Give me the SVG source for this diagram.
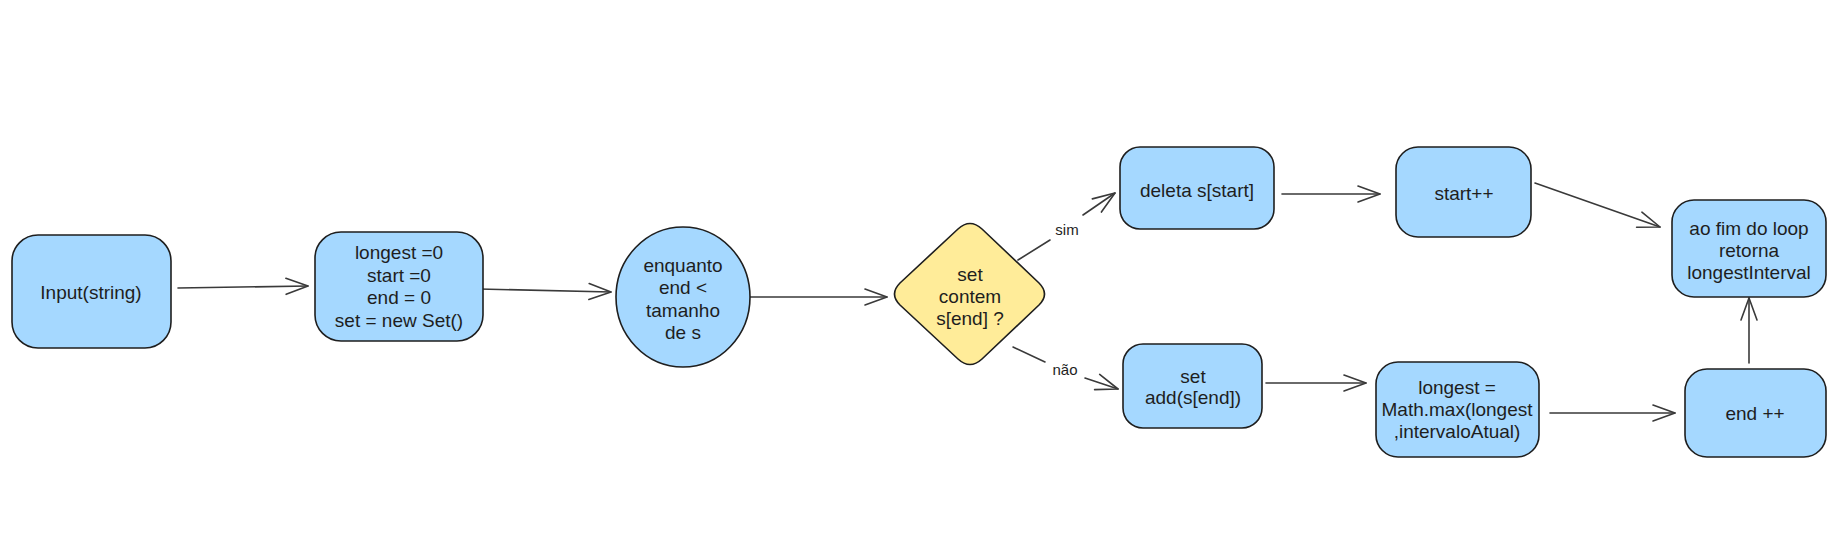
<svg xmlns="http://www.w3.org/2000/svg" width="1837" height="551" viewBox="0 0 1837 551">
<defs>
<style>
.box{fill:#a5d8ff;stroke:#1e1e1e;stroke-width:1.6}
.dec{fill:#ffec99;stroke:#1e1e1e;stroke-width:1.6}
.t{font-family:"Liberation Sans",Arial,sans-serif;font-size:19px;fill:#1e1e1e;text-anchor:middle;dominant-baseline:central}
.lbl{font-family:"Liberation Sans",Arial,sans-serif;font-size:15px;fill:#1e1e1e;text-anchor:middle;dominant-baseline:central}
.c{fill:none;stroke:#3a3a3a;stroke-width:1.6;stroke-linecap:round}
</style>
<marker id="arr" viewBox="-25 -10 27 20" markerWidth="27" markerHeight="20" refX="0" refY="0" orient="auto" markerUnits="userSpaceOnUse">
<path d="M-22,-8 L0,0 L-22,8" fill="none" stroke="#3a3a3a" stroke-width="1.6" stroke-linecap="round" stroke-linejoin="round"/>
</marker>
</defs>
<rect width="1837" height="551" fill="#ffffff"/>

<g id="connectors">
<line class="c" x1="178" y1="288" x2="308" y2="286" marker-end="url(#arr)"/>
<line class="c" x1="479" y1="289" x2="611" y2="292" marker-end="url(#arr)"/>
<line class="c" x1="748" y1="297" x2="887" y2="297" marker-end="url(#arr)"/>
<line class="c" x1="1018" y1="260" x2="1050" y2="240"/>
<line class="c" x1="1083" y1="215" x2="1115" y2="193" marker-end="url(#arr)"/>
<text class="lbl" x="1067" y="229">sim</text>
<line class="c" x1="1013" y1="347" x2="1045" y2="362"/>
<line class="c" x1="1085" y1="378" x2="1118" y2="389" marker-end="url(#arr)"/>
<text class="lbl" x="1065" y="369">não</text>
<line class="c" x1="1282" y1="194" x2="1380" y2="194" marker-end="url(#arr)"/>
<line class="c" x1="1535" y1="183" x2="1660" y2="227" marker-end="url(#arr)"/>
<line class="c" x1="1266" y1="383" x2="1366" y2="383" marker-end="url(#arr)"/>
<line class="c" x1="1550" y1="413" x2="1675" y2="413" marker-end="url(#arr)"/>
<line class="c" x1="1749" y1="363" x2="1749" y2="298" marker-end="url(#arr)"/>
</g>

<g id="input">
<rect class="box" x="12" y="235" width="159" height="113" rx="26"/>
<text class="t" x="91" y="292">Input(string)</text>
</g>

<g id="init">
<rect class="box" x="315" y="232" width="168" height="109" rx="26"/>
<text class="t" x="399" y="252">longest =0</text>
<text class="t" x="399" y="275">start =0</text>
<text class="t" x="399" y="297">end = 0</text>
<text class="t" x="399" y="320">set = new Set()</text>
</g>

<g id="loop">
<ellipse class="box" cx="683" cy="297" rx="67" ry="70"/>
<text class="t" x="683" y="265">enquanto</text>
<text class="t" x="683" y="287">end &lt;</text>
<text class="t" x="683" y="310">tamanho</text>
<text class="t" x="683" y="332">de s</text>
</g>

<g id="decision">
<path class="dec" d="M958,229 Q970,218 982,229 L1039,283 Q1050,294 1039,305 L982,359 Q970,370 958,359 L900,305 Q889,294 900,283 Z"/>
<text class="t" x="970" y="274">set</text>
<text class="t" x="970" y="296">contem</text>
<text class="t" x="970" y="318">s[end] ?</text>
</g>

<g id="delete">
<rect class="box" x="1120" y="147" width="154" height="82" rx="20"/>
<text class="t" x="1197" y="190">deleta s[start]</text>
</g>

<g id="startinc">
<rect class="box" x="1396" y="147" width="135" height="90" rx="22"/>
<text class="t" x="1464" y="193">start++</text>
</g>

<g id="result">
<rect class="box" x="1672" y="200" width="154" height="97" rx="22"/>
<text class="t" x="1749" y="228">ao fim do loop</text>
<text class="t" x="1749" y="250">retorna</text>
<text class="t" x="1749" y="272">longestInterval</text>
</g>

<g id="setadd">
<rect class="box" x="1123" y="344" width="139" height="84" rx="20"/>
<text class="t" x="1193" y="376">set</text>
<text class="t" x="1193" y="397">add(s[end])</text>
</g>

<g id="longest">
<rect class="box" x="1376" y="362" width="163" height="95" rx="22"/>
<text class="t" x="1457" y="387">longest =</text>
<text class="t" x="1457" y="409">Math.max(longest</text>
<text class="t" x="1457" y="431">,intervaloAtual)</text>
</g>

<g id="endinc">
<rect class="box" x="1685" y="369" width="141" height="88" rx="22"/>
<text class="t" x="1755" y="413">end ++</text>
</g>
</svg>
